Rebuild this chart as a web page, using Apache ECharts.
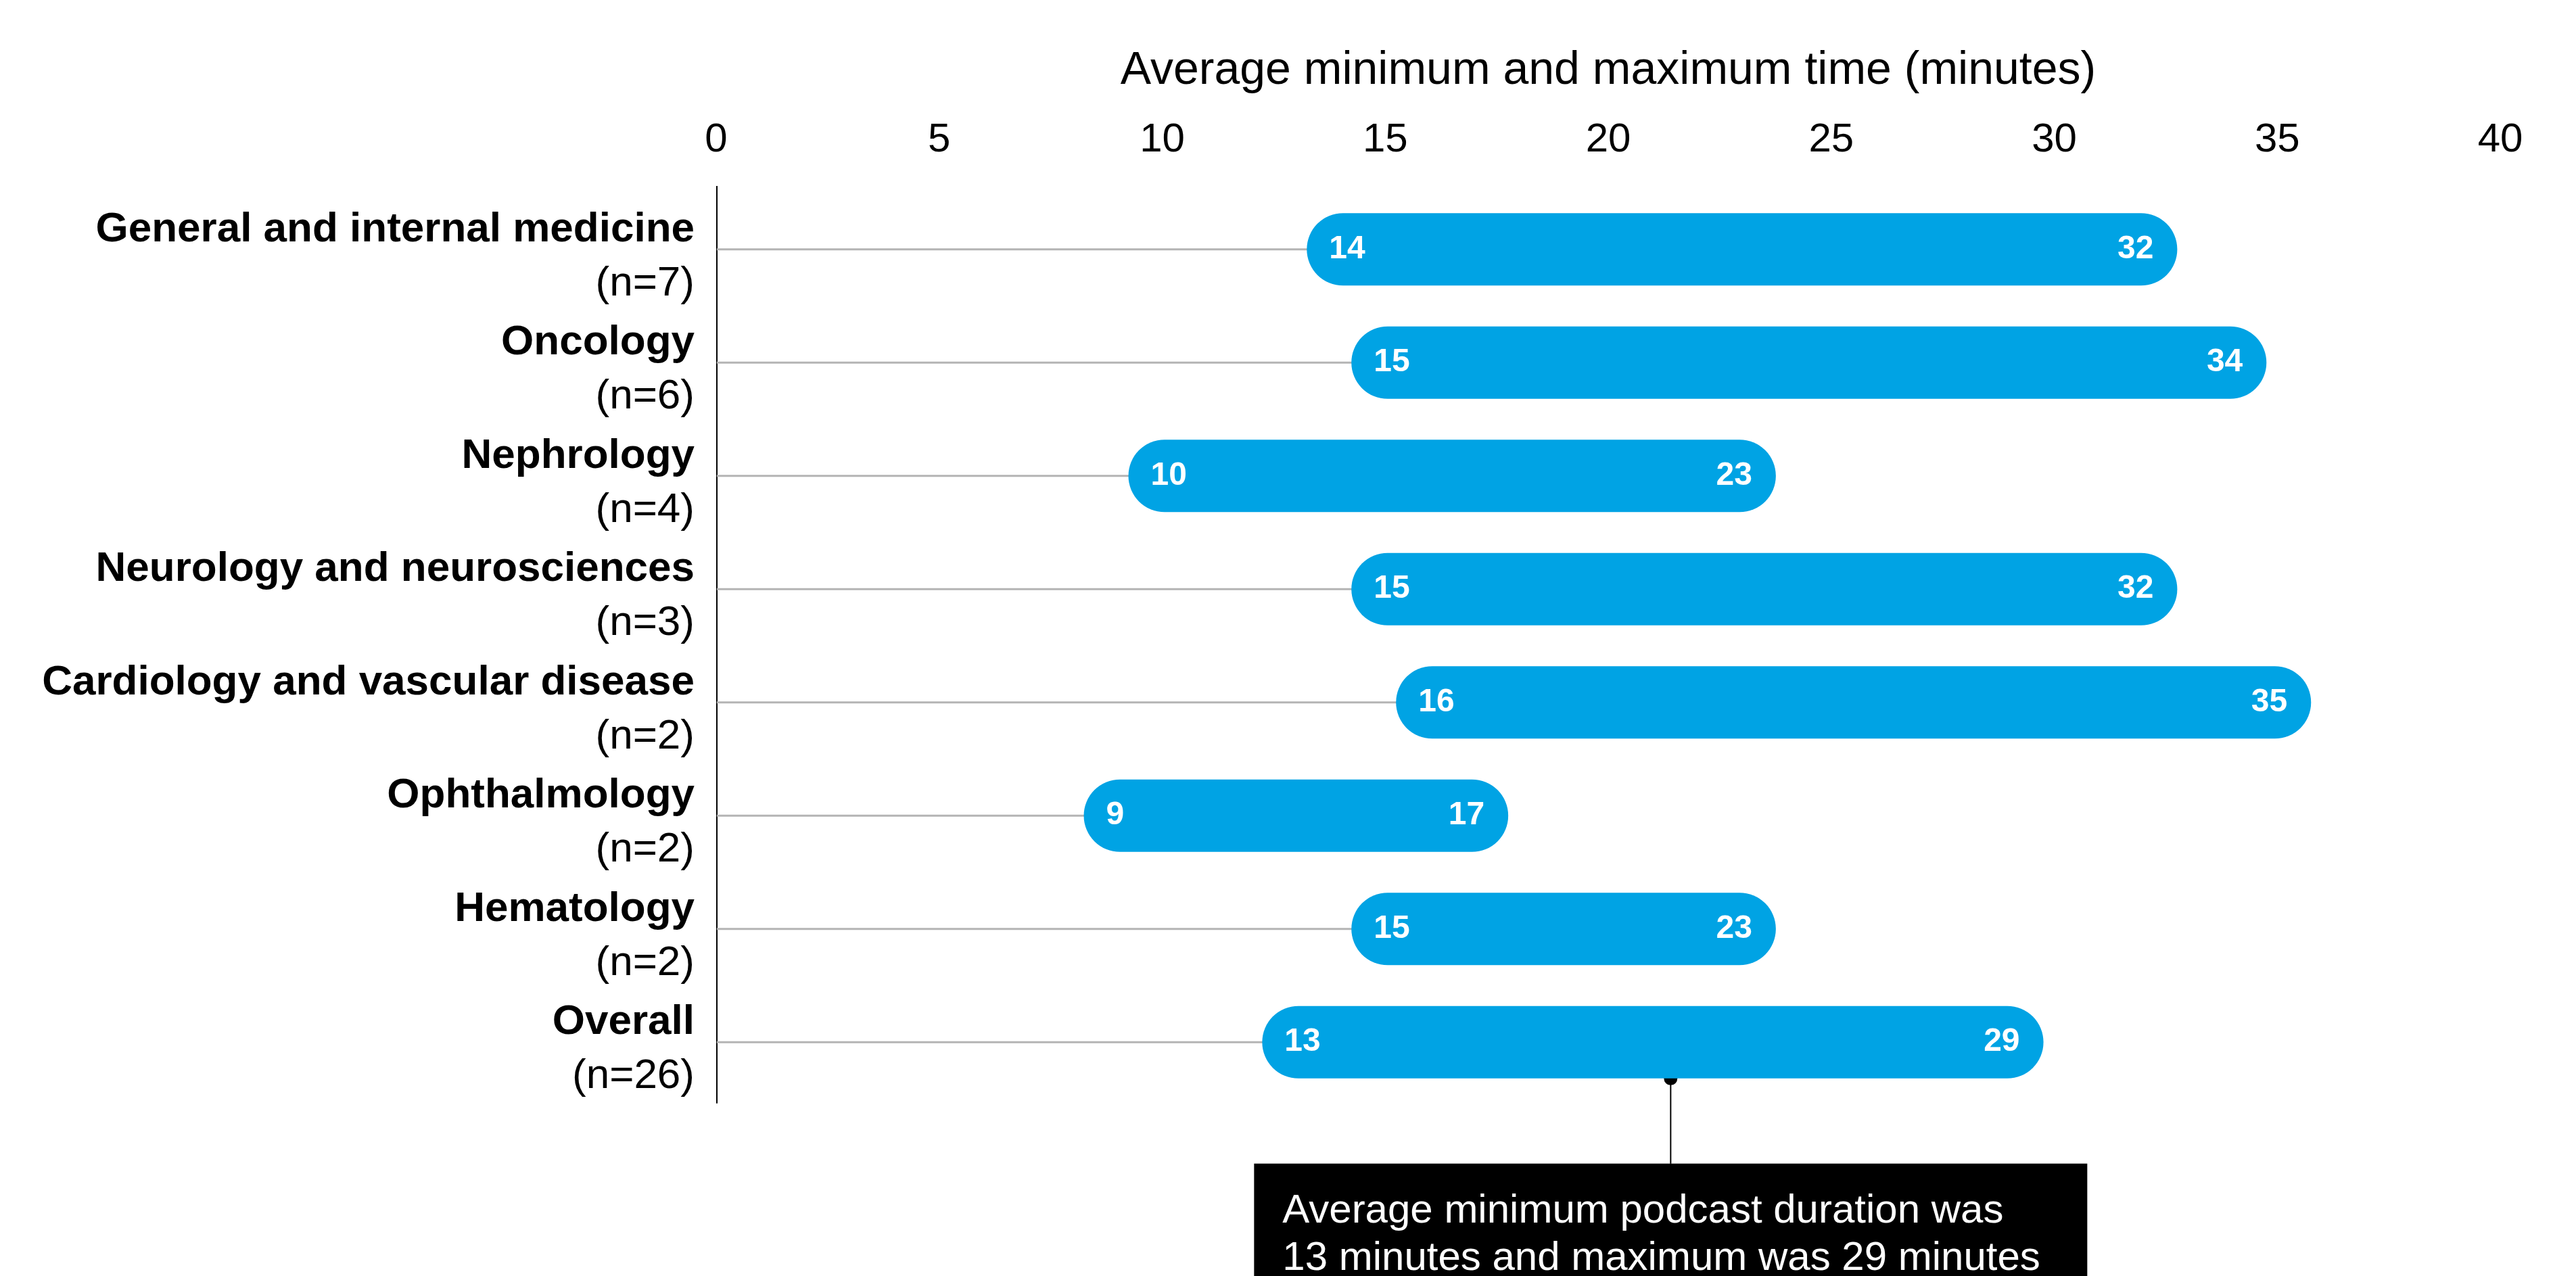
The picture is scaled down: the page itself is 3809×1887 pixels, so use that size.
<!DOCTYPE html>
<html>
<head>
<meta charset="utf-8">
<script src="https://cdn.jsdelivr.net/npm/echarts@6/dist/echarts.min.js"></script>
<style>
html, body { margin: 0; padding: 0; background: #fff; }
#chart { width: 3809px; height: 1887px; }
</style>
</head>
<body>
<div id="chart"></div>
<script>
// data
var specialties = ['General and internal medicine', 'Oncology', 'Nephrology', 'Neurology and neurosciences',
  'Cardiology and vascular disease', 'Ophthalmology', 'Hematology', 'Overall'];
var sampleSizes = [7, 6, 4, 3, 2, 2, 2, 26];
var minTimes = [14, 15, 10, 15, 16, 9, 15, 13];
var maxTimes = [32, 34, 23, 32, 35, 17, 23, 29];
var xTickLabels = ['0', '5', '10', '15', '20', '25', '30', '35', '40'];
var noteLines = ['Average minimum podcast duration was', '13 minutes and maximum was 29 minutes'];
var noteAt = 21.4; // minutes, where the callout hangs from the Overall bar

var FONT = '"Liberation Sans", Arial, sans-serif';
var BLUE = '#00a3e4';

var rows = specialties.map(function (name, i) {
  return [i, minTimes[i], maxTimes[i]];
});

function renderItem(params, api) {
  var row = api.value(0);
  var p0 = api.coord([api.value(1), row]);
  var p1 = api.coord([api.value(2), row]);
  var axisX = api.coord([0, row])[0];
  var h = api.size([0, 1])[1] * 0.64;
  var pad = 50;
  var x0 = p0[0] - pad;
  var x1 = p1[0] + pad;
  var y = p0[1];
  return {
    type: 'group',
    children: [
      { type: 'line', shape: { x1: axisX + 1, y1: y, x2: x0 + 5, y2: y }, style: { stroke: '#b4b4b4', lineWidth: 3 } },
      { type: 'rect', shape: { x: x0, y: y - h / 2, width: x1 - x0, height: h, r: h / 2 }, style: { fill: BLUE } },
      { type: 'text', style: { text: String(api.value(1)), x: x0 + 33, y: y, align: 'left', verticalAlign: 'middle',
        fill: '#fff', font: 'bold 48px ' + FONT } },
      { type: 'text', style: { text: String(api.value(2)), x: x1 - 35, y: y, align: 'right', verticalAlign: 'middle',
        fill: '#fff', font: 'bold 48px ' + FONT } }
    ]
  };
}

var chart = echarts.init(document.getElementById('chart'));
chart.setOption({
  animation: false,
  backgroundColor: '#fff',
  grid: { left: 1059, right: 112, top: 285, bottom: 262 },
  xAxis: {
    type: 'value',
    position: 'top',
    min: 0,
    max: 40,
    interval: 5,
    name: 'Average minimum and maximum time (minutes)',
    nameLocation: 'middle',
    nameGap: 146,
    nameTextStyle: { fontFamily: FONT, fontSize: 68, color: '#000' },
    axisLine: { show: false },
    axisTick: { show: false },
    splitLine: { show: false },
    axisLabel: {
      fontFamily: FONT, fontSize: 60, color: '#000', margin: 48,
      formatter: function (v) { return xTickLabels[Math.round(v / 5)]; }
    }
  },
  yAxis: {
    type: 'category',
    inverse: true,
    data: specialties,
    axisLine: { show: false },
    axisTick: { show: false },
    axisLabel: {
      margin: 32,
      align: 'right',
      padding: [22, 0, 0, 0],
      formatter: function (v, i) {
        return '{a|' + v + '}\n{b|(n=' + sampleSizes[i] + ')}';
      },
      rich: {
        a: { fontFamily: FONT, fontSize: 62, fontWeight: 'bold', color: '#000', lineHeight: 80, align: 'right' },
        b: { fontFamily: FONT, fontSize: 62, color: '#000', lineHeight: 80, align: 'right' }
      }
    }
  },
  series: [{
    type: 'custom',
    renderItem: renderItem,
    encode: { x: [1, 2], y: 0 },
    data: rows
  }]
});

// vertical axis rule and callout under the Overall bar
var last = specialties.length - 1;
var firstPt = chart.convertToPixel({ gridIndex: 0 }, [0, 0]);
var lastPt = chart.convertToPixel({ gridIndex: 0 }, [0, last]);
var anchor = chart.convertToPixel({ gridIndex: 0 }, [noteAt, last]);
var band = (lastPt[1] - firstPt[1]) / last;
var dotY = anchor[1] + band * 0.32;
var boxTop = dotY + 126;
var boxW = 1232;
chart.setOption({
  graphic: [
    { type: 'line', shape: { x1: firstPt[0] + 1, y1: firstPt[1] - band * 0.56, x2: firstPt[0] + 1, y2: lastPt[1] + band * 0.54 },
      style: { stroke: '#000', lineWidth: 2 } },
    { type: 'line', shape: { x1: anchor[0], y1: dotY, x2: anchor[0], y2: boxTop }, style: { stroke: '#000', lineWidth: 2 } },
    { type: 'circle', shape: { cx: anchor[0], cy: dotY, r: 10 }, style: { fill: '#000' } },
    { type: 'rect', shape: { x: anchor[0] - boxW / 2, y: boxTop, width: boxW, height: 400 }, style: { fill: '#000' } },
    { type: 'text', style: { text: noteLines[0], x: anchor[0] - boxW / 2 + 42, y: boxTop + 71, verticalAlign: 'middle',
      fill: '#fff', font: '60px ' + FONT } },
    { type: 'text', style: { text: noteLines[1], x: anchor[0] - boxW / 2 + 42, y: boxTop + 141, verticalAlign: 'middle',
      fill: '#fff', font: '60px ' + FONT } }
  ]
});
</script>
</body>
</html>
